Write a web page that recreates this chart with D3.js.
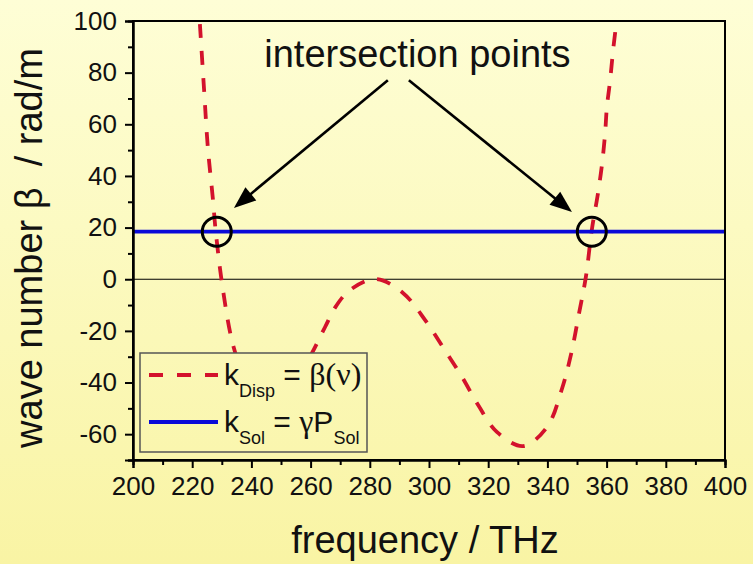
<!DOCTYPE html>
<html><head><meta charset="utf-8">
<script src="https://cdn.jsdelivr.net/npm/d3@7"></script>
<style>
body{margin:0;background:#fff;}
svg{display:block;font-family:"Liberation Sans",Arial,Helvetica,sans-serif;}
</style>
</head><body>
<svg id="chart" width="753" height="564"></svg>
<script>
// ---- data ----
const dispFreq = [222.6, 224.0, 225.3, 227.0, 227.9, 230.3, 233.8, 238.0, 242.0, 246.0, 250.0, 255.0,
                  260.5, 264.9, 268.6, 273.3, 282.1, 291.2, 298.7, 305.1, 311.2, 316.6, 323.0, 331.8,
                  339.9, 344.9, 348.0, 350.7, 353.0, 355.0, 357.1, 358.5, 359.5, 360.1, 361.2, 362.2, 363.4];
const dispBeta = [98.8, 73.6, 50.8, 31.0, 19.1, -3.4, -25.5, -39.0, -46.0, -48.0, -46.0, -40.0,
                  -28.5, -18.5, -10.4, -4.2, 0.1, -5.3, -15.8, -27.0, -37.9, -48.7, -59.2, -64.6,
                  -57.2, -42.5, -29.0, -13.1, 0.9, 19.1, 33.4, 45.0, 56.6, 66.7, 77.1, 88.7, 100.3];
const solBeta = 18.4;
const intersectFreq = [228.3, 355.0];
const xTicks = [200, 220, 240, 260, 280, 300, 320, 340, 360, 380, 400];
const xMinor = [210, 230, 250, 270, 290, 310, 330, 350, 370, 390];
const yTicks = [-60, -40, -20, 0, 20, 40, 60, 80, 100];
const yMinor = [-70, -50, -30, -10, 10, 30, 50, 70, 90];
const annotationText = "intersection points";
const annotationAt = [296.1, 82.1];
const arrowStarts = [[286.1, 77.1], [293.2, 77.1]];
const arrowTips = [[234.1, 27.6], [348.3, 26.0]];
const legendLabels = [
  {main: "k", sub: "Disp", eq: " = ", greek: "\u03B2(\u03BD)", tail: "", sub2: ""},
  {main: "k", sub: "Sol", eq: " = ", greek: "\u03B3", tail: "P", sub2: "Sol"}
];

// ---- layout ----
const W = 753, H = 564;
const svg = d3.select("#chart");
const x = d3.scaleLinear().domain([200, 400]).range([133, 725]);
const y = d3.scaleLinear().domain([-70, 100]).range([460, 21]);

const defs = svg.append("defs");
const grad = defs.append("linearGradient").attr("id", "bg")
  .attr("gradientUnits", "userSpaceOnUse").attr("x1", 0).attr("y1", 0).attr("x2", 0).attr("y2", H);
grad.append("stop").attr("offset", "0%").attr("stop-color", "#fefed6");
grad.append("stop").attr("offset", "100%").attr("stop-color", "#f9f4a4");
defs.append("clipPath").attr("id", "plotclip").append("rect")
  .attr("x", x(200)).attr("y", y(100)).attr("width", x(400) - x(200)).attr("height", y(-70) - y(100));

svg.append("rect").attr("width", W).attr("height", H).attr("fill", "url(#bg)");

const plot = svg.append("g").attr("clip-path", "url(#plotclip)");

// zero line
plot.append("line").attr("x1", x(200)).attr("x2", x(400)).attr("y1", y(0)).attr("y2", y(0))
  .attr("stroke", "#000").attr("stroke-width", 1.2);

// dispersion curve
const pts = dispFreq.map((f, i) => [f, dispBeta[i]]);
const line = d3.line().x(d => x(d[0])).y(d => y(d[1])).curve(d3.curveCatmullRom.alpha(0.5));
plot.append("path").attr("d", line(pts)).attr("fill", "none")
  .attr("stroke", "#d3122c").attr("stroke-width", 3.8).attr("stroke-dasharray", "14,13");

// soliton line
plot.append("line").attr("x1", x(200)).attr("x2", x(400)).attr("y1", y(solBeta)).attr("y2", y(solBeta))
  .attr("stroke", "#0a0ad8").attr("stroke-width", 3.8);

// circles
plot.selectAll("circle.ip").data(intersectFreq).join("circle").attr("class", "ip")
  .attr("cx", d => x(d)).attr("cy", y(solBeta)).attr("r", 14.5)
  .attr("fill", "none").attr("stroke", "#000").attr("stroke-width", 3);

// arrows
arrowStarts.forEach((s, i) => {
  const t = arrowTips[i];
  const x0 = x(s[0]), y0 = y(s[1]), x1 = x(t[0]), y1 = y(t[1]);
  const dx = x1 - x0, dy = y1 - y0, L = Math.hypot(dx, dy);
  const ux = dx / L, uy = dy / L, hl = 22, hw = 8.5;
  const bx = x1 - ux * hl, by = y1 - uy * hl;
  svg.append("line").attr("x1", x0).attr("y1", y0).attr("x2", bx + ux * 2).attr("y2", by + uy * 2)
    .attr("stroke", "#000").attr("stroke-width", 2.6);
  svg.append("path").attr("d", d3.line()([[x1, y1], [bx - uy * hw, by + ux * hw], [bx + uy * hw, by - ux * hw]]) + "Z")
    .attr("fill", "#000");
});

svg.append("text").attr("x", x(annotationAt[0])).attr("y", y(annotationAt[1]))
  .attr("text-anchor", "middle").attr("font-size", 38).attr("fill", "#111").text(annotationText);

// frame
svg.append("rect").attr("x", x(200)).attr("y", y(100)).attr("width", x(400) - x(200)).attr("height", y(-70) - y(100))
  .attr("fill", "none").attr("stroke", "#000").attr("stroke-width", 2);

// axes
const fs = 26;
const fmt = d => String(d);
const xAxis = svg.append("g").attr("transform", `translate(0,${y(-70)})`)
  .call(d3.axisBottom(x).tickValues(xTicks).tickSize(8).tickPadding(9).tickFormat(fmt));
const xAxisMinor = svg.append("g").attr("transform", `translate(0,${y(-70)})`)
  .call(d3.axisBottom(x).tickValues(xMinor).tickSize(5).tickFormat(""));
const yAxis = svg.append("g").attr("transform", `translate(${x(200)},0)`)
  .call(d3.axisLeft(y).tickValues(yTicks).tickSize(8).tickPadding(8).tickFormat(fmt));
const yAxisMinor = svg.append("g").attr("transform", `translate(${x(200)},0)`)
  .call(d3.axisLeft(y).tickValues(yMinor).tickSize(5).tickFormat(""));
[xAxis, xAxisMinor, yAxis, yAxisMinor].forEach(g => {
  g.select(".domain").attr("stroke-width", 2);
  g.selectAll(".tick line").attr("stroke-width", 2);
  g.selectAll("text").attr("font-size", fs).attr("font-family", "Liberation Sans, Arial, sans-serif").attr("fill", "#111");
});

// axis titles
svg.append("text").attr("x", 425).attr("y", 553).attr("text-anchor", "middle")
  .attr("font-size", 38).attr("fill", "#111").text("frequency / THz");
svg.append("text").attr("transform", "translate(42,248) rotate(-90)").attr("text-anchor", "middle")
  .attr("xml:space", "preserve").style("white-space", "pre")
  .attr("font-size", 38).attr("fill", "#111").text("wave number \u03B2  / rad/m");

// legend
const lg = svg.append("g");
lg.append("rect").attr("x", 140).attr("y", 353).attr("width", 227).attr("height", 99)
  .attr("fill", "url(#bg)").attr("stroke", "#555").attr("stroke-width", 1.5);
const legendStyles = [
  {stroke: "#d3122c", dash: "14,14", w: 3.8},
  {stroke: "#0a0ad8", dash: null, w: 3.8}
];
legendLabels.forEach((lab, i) => {
  const cy = 375 + i * 47;
  lg.append("line").attr("x1", 149).attr("x2", 218).attr("y1", cy).attr("y2", cy)
    .attr("stroke", legendStyles[i].stroke).attr("stroke-width", legendStyles[i].w)
    .attr("stroke-dasharray", legendStyles[i].dash);
  const t = lg.append("text").attr("x", 224).attr("y", cy + 10).attr("font-size", 30).attr("fill", "#111")
    .attr("xml:space", "preserve").style("white-space", "pre");
  t.append("tspan").text(lab.main);
  t.append("tspan").attr("font-size", 18).attr("dy", 12).text(lab.sub);
  t.append("tspan").attr("dy", -12).text(lab.eq);
  t.append("tspan").attr("font-family", "Liberation Serif, 'DejaVu Serif', serif").attr("font-size", 32).text(lab.greek);
  if (lab.tail) t.append("tspan").text(lab.tail);
  if (lab.sub2) t.append("tspan").attr("font-size", 18).attr("dy", 12).text(lab.sub2);
});
</script>
</body></html>
